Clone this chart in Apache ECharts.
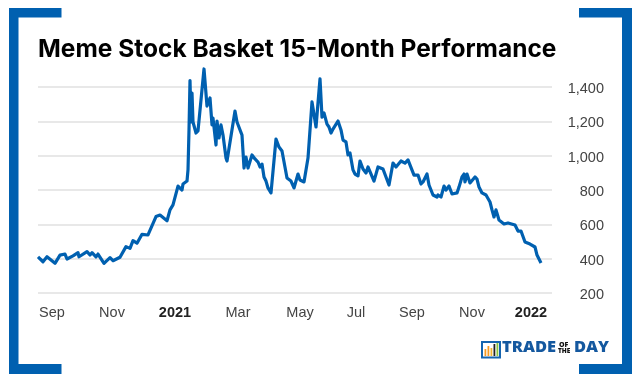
<!DOCTYPE html>
<html><head><meta charset="utf-8">
<style>html,body{margin:0;padding:0;background:#fff}#c{width:640px;height:382px}</style>
<script src="https://cdn.jsdelivr.net/npm/echarts@6/dist/echarts.min.js"></script>
</head><body><div id="c"></div>
<script>
const titleText = 'Meme Stock Basket 15-Month Performance';
const tickLabels = ['Sep','Nov','2021','Mar','May','Jul','Sep','Nov','2022'];
const tickPositions = [14,74,137,200,262,318,374,434,493];
const yearLabels = ['2021','2022'];
const sessions = [0,5,9,17,22,27,29,35,40,41,49,52,54,58,60,66,72,75,82,88,92,95,99,104,110,118,122,129,132,135,140,144,145,149,150,151,152,153,154,155,158,160,166,169,171,172,174,175,178,179,181,183,185,188,189,197,199,201,204,206,208,210,214,217,220,222,224,226,228,230,233,238,241,244,249,253,256,260,262,266,270,272,274,278,282,284,286,289,291,293,295,300,303,305,308,310,312,315,317,320,322,325,327,328,330,336,340,345,351,355,358,363,367,370,376,380,383,385,389,391,395,399,400,403,406,408,411,414,416,419,421,424,426,427,429,432,437,439,441,444,448,452,454,456,458,460,461,466,470,477,480,483,485,487,492,497,499,503];
const basket = [411,382,411,373,421,427,398,416,435,411,441,421,435,410,427,373,406,388,408,470,460,505,490,542,538,645,654,621,684,713,823,800,835,852,917,1150,1437,1196,1365,1196,1132,1144,1505,1289,1278,1336,1179,1219,1062,1202,1103,1179,1120,986,969,1260,1196,1190,1120,928,992,928,1004,981,963,934,951,876,852,812,783,1097,1050,1027,870,852,812,893,858,847,986,975,1313,1167,1447,1225,1249,1184,1167,1132,1155,1202,1150,1091,1080,1004,1016,917,893,882,969,922,917,899,934,852,934,922,829,957,934,969,957,975,887,887,835,847,893,829,771,759,771,759,823,800,823,777,788,783,817,876,893,847,893,841,876,864,817,783,771,730,684,643,684,695,625,602,608,596,561,561,567,497,485,468,421,375];
const yTicks = [200,1400];

const BLUE = '#0060b0';
const chart = echarts.init(document.getElementById('c'), null, {renderer:'canvas'});
const rect = (x,y,w,h,fill)=>({type:'rect',shape:{x,y,width:w,height:h},style:{fill},silent:true});
const txt = (x,y,t,size,fill,w)=>({type:'text',x,y,style:{text:t,font:`${w||800} ${size}px "Open Sans", sans-serif`,fill,textVerticalAlign:'top'},silent:true});
chart.setOption({
  animation:false,
  backgroundColor:'#fff',
  title:{text:titleText,left:33,top:32,textStyle:{fontFamily:'Inter',fontWeight:700,fontSize:24.5,color:'#000'}},
  grid:{left:38,right:88,top:87,bottom:89,containLabel:false},
  xAxis:{type:'value',min:0,max:514,
    splitLine:{show:false},axisLine:{show:false},axisTick:{show:false},
    axisLabel:{customValues:tickPositions,margin:12,fontFamily:'Liberation Sans',fontSize:14.5,color:'#444',hideOverlap:false,
      formatter:(v)=>{const l=tickLabels[tickPositions.indexOf(v)];return yearLabels.includes(l)?`{b|${l}}`:l;},
      rich:{b:{fontFamily:'Liberation Sans',fontWeight:700,fontSize:14.5,color:'#222'}}}},
  yAxis:{type:'value',position:'right',min:yTicks[0],max:yTicks[1],interval:200,
    splitLine:{lineStyle:{color:'#e0e0e0',width:1.5}},axisLine:{show:false},axisTick:{show:false},
    axisLabel:{align:'right',margin:52,verticalAlign:'top',lineHeight:4,fontFamily:'Liberation Sans',fontSize:14.5,color:'#444',
      formatter:(v)=>v.toLocaleString('en-US')}},
  series:[{type:'line',data:sessions.map((s,i)=>[s,basket[i]]),clip:false,showSymbol:false,symbol:'none',
    lineStyle:{color:BLUE,width:3.2,join:'round'}}],
  graphic:[
    rect(9,8,52.5,9.5,BLUE),rect(9,8,9.5,366,BLUE),rect(9,364,52.5,10,BLUE),
    rect(579,8,53,9.5,BLUE),rect(622,8,10,366,BLUE),rect(579,364,53,10,BLUE),
    {type:'rect',shape:{x:482,y:342,width:18,height:15.5},style:{fill:'none',stroke:'#1565b0',lineWidth:2},silent:true},
    rect(484.5,349,1.8,7,'#f59a23'),rect(487.5,346,1.8,10,'#f59a23'),rect(490.5,348,1.8,8,'#f2b632'),
    rect(493.5,344,1.8,12,'#222222'),rect(496.5,343,1.8,13,'#8cc63f'),
    txt(502,338.5,'TRADE',16.5,'#14589f'),
    txt(559,341,'OF',7,'#111'),txt(558,347.5,'THE',6.5,'#111'),
    txt(574,338.5,'DAY',16.5,'#14589f')
  ]
});
</script></body></html>
